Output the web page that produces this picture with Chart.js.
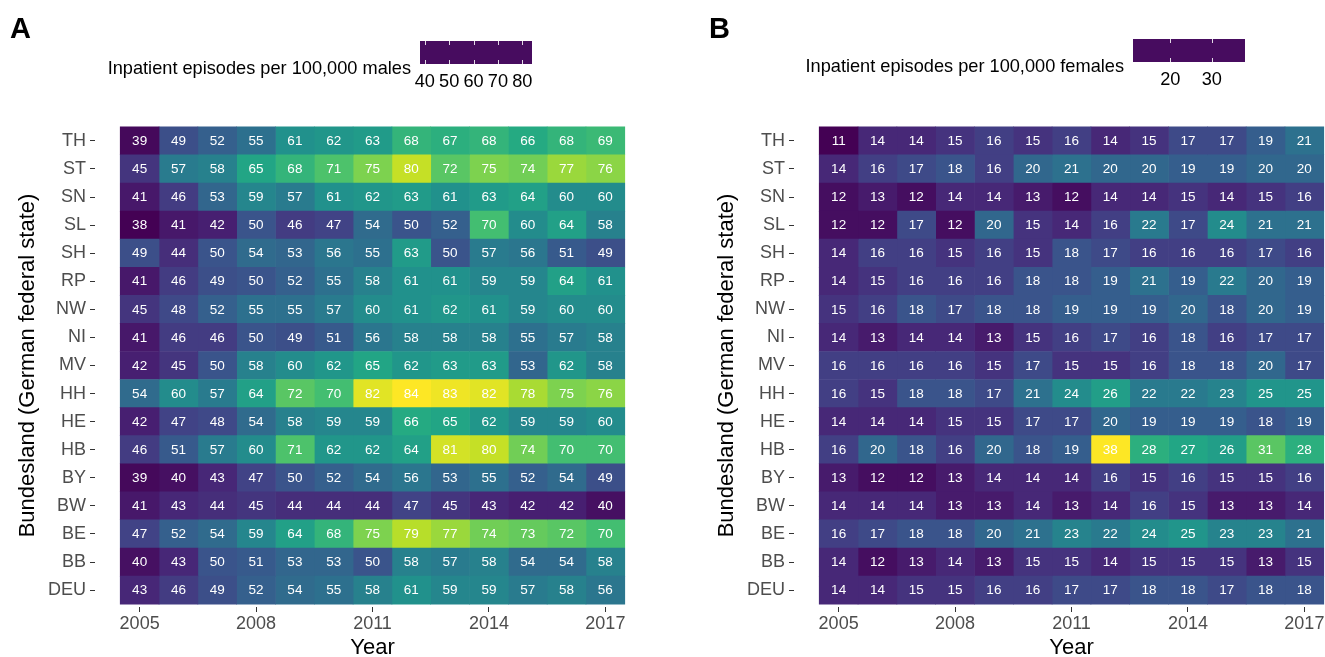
<!DOCTYPE html>
<html>
<head>
<meta charset="utf-8">
<title>Inpatient episodes by Bundesland</title>
<script src="https://cdn.jsdelivr.net/npm/chart.js@4.4.1/dist/chart.umd.min.js"></script>
<style>
  html, body { margin: 0; padding: 0; background: #fff; overflow: hidden; }
  body { width: 1325px; height: 657px; position: relative; }
  .panel { position: absolute; top: 0; }
  #panelA { left: 0; }
  #panelB { left: 699px; }
</style>
</head>
<body>
<div class="panel" id="panelA"><canvas id="chartA" width="662" height="657"></canvas></div>
<div class="panel" id="panelB"><canvas id="chartB" width="662" height="657"></canvas></div>
<script>
// years on the x axis, states listed top to bottom
const years = [2005, 2006, 2007, 2008, 2009, 2010, 2011, 2012, 2013, 2014, 2015, 2016, 2017];
const yearTicks = [2005, 2008, 2011, 2014, 2017];
const states = ["TH", "ST", "SN", "SL", "SH", "RP", "NW", "NI", "MV", "HH", "HE", "HB", "BY", "BW", "BE", "BB", "DEU"];

// rows follow the order of `states`
const maleRates = [
  [39, 49, 52, 55, 61, 62, 63, 68, 67, 68, 66, 68, 69],
  [45, 57, 58, 65, 68, 71, 75, 80, 72, 75, 74, 77, 76],
  [41, 46, 53, 59, 57, 61, 62, 63, 61, 63, 64, 60, 60],
  [38, 41, 42, 50, 46, 47, 54, 50, 52, 70, 60, 64, 58],
  [49, 44, 50, 54, 53, 56, 55, 63, 50, 57, 56, 51, 49],
  [41, 46, 49, 50, 52, 55, 58, 61, 61, 59, 59, 64, 61],
  [45, 48, 52, 55, 55, 57, 60, 61, 62, 61, 59, 60, 60],
  [41, 46, 46, 50, 49, 51, 56, 58, 58, 58, 55, 57, 58],
  [42, 45, 50, 58, 60, 62, 65, 62, 63, 63, 53, 62, 58],
  [54, 60, 57, 64, 72, 70, 82, 84, 83, 82, 78, 75, 76],
  [42, 47, 48, 54, 58, 59, 59, 66, 65, 62, 59, 59, 60],
  [46, 51, 57, 60, 71, 62, 62, 64, 81, 80, 74, 70, 70],
  [39, 40, 43, 47, 50, 52, 54, 56, 53, 55, 52, 54, 49],
  [41, 43, 44, 45, 44, 44, 44, 47, 45, 43, 42, 42, 40],
  [47, 52, 54, 59, 64, 68, 75, 79, 77, 74, 73, 72, 70],
  [40, 43, 50, 51, 53, 53, 50, 58, 57, 58, 54, 54, 58],
  [43, 46, 49, 52, 54, 55, 58, 61, 59, 59, 57, 58, 56]
];

const femaleRates = [
  [11, 14, 14, 15, 16, 15, 16, 14, 15, 17, 17, 19, 21],
  [14, 16, 17, 18, 16, 20, 21, 20, 20, 19, 19, 20, 20],
  [12, 13, 12, 14, 14, 13, 12, 14, 14, 15, 14, 15, 16],
  [12, 12, 17, 12, 20, 15, 14, 16, 22, 17, 24, 21, 21],
  [14, 16, 16, 15, 16, 15, 18, 17, 16, 16, 16, 17, 16],
  [14, 15, 16, 16, 16, 18, 18, 19, 21, 19, 22, 20, 19],
  [15, 16, 18, 17, 18, 18, 19, 19, 19, 20, 18, 20, 19],
  [14, 13, 14, 14, 13, 15, 16, 17, 16, 18, 16, 17, 17],
  [16, 16, 16, 16, 15, 17, 15, 15, 16, 18, 18, 20, 17],
  [16, 15, 18, 18, 17, 21, 24, 26, 22, 22, 23, 25, 25],
  [14, 14, 14, 15, 15, 17, 17, 20, 19, 19, 19, 18, 19],
  [16, 20, 18, 16, 20, 18, 19, 38, 28, 27, 26, 31, 28],
  [13, 12, 12, 13, 14, 14, 14, 16, 15, 16, 15, 15, 16],
  [14, 14, 14, 13, 13, 14, 13, 14, 16, 15, 13, 13, 14],
  [16, 17, 18, 18, 20, 21, 23, 22, 24, 25, 23, 23, 21],
  [14, 12, 13, 14, 13, 15, 15, 14, 15, 15, 15, 13, 15],
  [14, 14, 15, 15, 16, 16, 17, 17, 18, 18, 17, 18, 18]
];

const maleBreaks = [40, 50, 60, 70, 80];
const femaleBreaks = [20, 30];

const FONT = "'Liberation Sans', Arial, Helvetica, sans-serif";

// viridis colour ramp
const viridisStops = ["#440154", "#482475", "#414487", "#355f8d", "#2a788e", "#21918c",
                      "#22a884", "#44bf70", "#7ad151", "#bddf26", "#fde725"];

function hexToRgb(h) {
  return [parseInt(h.slice(1, 3), 16), parseInt(h.slice(3, 5), 16), parseInt(h.slice(5, 7), 16)];
}

function viridis(t) {
  t = Math.max(0, Math.min(1, t));
  const pos = t * (viridisStops.length - 1);
  const i = Math.min(Math.floor(pos), viridisStops.length - 2);
  const f = pos - i;
  const a = hexToRgb(viridisStops[i]), b = hexToRgb(viridisStops[i + 1]);
  const c = a.map((v, k) => Math.round(v + (b[k] - v) * f));
  return `rgb(${c[0]},${c[1]},${c[2]})`;
}

// writes the rate into every tile
const tileLabels = {
  id: "tileLabels",
  afterDatasetsDraw(chart) {
    const rates = chart.options.plugins.tileLabels.rates;
    const ctx = chart.ctx;
    ctx.save();
    ctx.fillStyle = "#ffffff";
    ctx.font = "13.5px " + FONT;
    ctx.textAlign = "center";
    ctx.textBaseline = "middle";
    chart.data.datasets.forEach((ds, j) => {
      chart.getDatasetMeta(j).data.forEach((bar, i) => {
        const p = bar.getCenterPoint();
        ctx.fillText(String(rates[i][j]), p.x, p.y + 0.5);
      });
    });
    ctx.restore();
  }
};

// panel letter and colour bar legend
const panelDecor = {
  id: "panelDecor",
  afterDraw(chart) {
    const o = chart.options.plugins.panelDecor;
    const ctx = chart.ctx;
    ctx.save();
    ctx.fillStyle = "#000";
    ctx.font = "bold 29px " + FONT;
    ctx.textAlign = "left";
    ctx.textBaseline = "alphabetic";
    ctx.fillText(o.letter, 10, 38);

    const bw = 112, bh = 23;
    ctx.font = "18.2px " + FONT;
    ctx.textAlign = "right";
    ctx.fillText(o.title, o.barX - 9, o.barY + 32.5);

    ctx.fillStyle = o.barColor;
    ctx.fillRect(o.barX, o.barY, bw, bh);

    const toX = v => o.barX + (v - o.lo) / (o.hi - o.lo) * bw;
    ctx.strokeStyle = "rgba(255,255,255,0.85)";
    ctx.lineWidth = 1;
    ctx.fillStyle = "#000";
    ctx.textAlign = "center";
    o.breaks.forEach(b => {
      const x = Math.round(toX(b)) + 0.5;
      ctx.beginPath();
      ctx.moveTo(x, o.barY); ctx.lineTo(x, o.barY + 4);
      ctx.moveTo(x, o.barY + bh - 4); ctx.lineTo(x, o.barY + bh);
      ctx.stroke();
      ctx.fillText(String(b), toX(b), o.barY + 46);
    });
    ctx.restore();
  }
};

function heatmap(canvasId, rates, decor) {
  const flat = rates.flat();
  const lo = Math.min(...flat), hi = Math.max(...flat);
  const n = states.length;

  // one dataset per year; each tile is a floating bar spanning the year
  const datasets = years.map((yr, j) => ({
    data: states.map((s, i) => ({ x: [yr - 0.5, yr + 0.5], y: n - 1 - i })),
    backgroundColor: states.map((s, i) => viridis((rates[i][j] - lo) / (hi - lo))),
    borderWidth: 0,
    barPercentage: 1,
    categoryPercentage: 1,
    grouped: false
  }));

  const tickGrid = { display: true, drawOnChartArea: false, drawTicks: true, tickLength: 5, color: "#333333", lineWidth: 1, offset: false };

  return new Chart(document.getElementById(canvasId), {
    type: "bar",
    data: { datasets },
    plugins: [tileLabels, panelDecor],
    options: {
      indexAxis: "y",
      responsive: false,
      animation: false,
      devicePixelRatio: 1,
      layout: { padding: { top: 124, left: 0, right: 12, bottom: 0 } },
      scales: {
        x: {
          type: "linear",
          position: "bottom",
          min: 2003.85,
          max: 2018.15,
          beginAtZero: false,
          offset: false,
          grid: tickGrid,
          border: { display: false },
          afterBuildTicks: s => { s.ticks = yearTicks.map(v => ({ value: v })); },
          afterFit: s => { s.height = 50; s.paddingLeft = 0; s.paddingRight = 0; },
          ticks: {
            autoSkip: false,
            maxRotation: 0,
            padding: 1,
            color: "#4d4d4d",
            font: { family: FONT, size: 18 },
            callback: v => String(v)
          },
          title: {
            display: true,
            text: "Year",
            color: "#000",
            font: { family: FONT, size: 22, lineHeight: 0.8 },
            padding: { top: 0, bottom: 0 }
          }
        },
        y: {
          type: "linear",
          position: "left",
          min: -0.6,
          max: n - 1 + 0.6,
          offset: false,
          grid: tickGrid,
          border: { display: false },
          afterBuildTicks: s => { s.ticks = states.map((st, i) => ({ value: i })); },
          afterFit: s => { s.width = 95; s.paddingTop = 0; s.paddingBottom = 0; },
          ticks: {
            autoSkip: false,
            padding: 4,
            color: "#4d4d4d",
            font: { family: FONT, size: 18 },
            callback: v => states[n - 1 - v]
          },
          title: {
            display: true,
            text: "Bundesland (German federal state)",
            color: "#000",
            font: { family: FONT, size: 22, lineHeight: 1.2 },
            padding: { top: 15, bottom: 0 }
          }
        }
      },
      plugins: {
        legend: { display: false },
        tooltip: { enabled: false },
        tileLabels: { rates },
        panelDecor: Object.assign({ lo, hi }, decor)
      }
    }
  });
}

heatmap("chartA", maleRates, {
  letter: "A",
  title: "Inpatient episodes per 100,000 males",
  breaks: maleBreaks,
  barX: 420,
  barY: 41,
  barColor: "#470c5f"
});

heatmap("chartB", femaleRates, {
  letter: "B",
  title: "Inpatient episodes per 100,000 females",
  breaks: femaleBreaks,
  barX: 434,
  barY: 39,
  barColor: "#470c5f"
});
</script>
</body>
</html>
